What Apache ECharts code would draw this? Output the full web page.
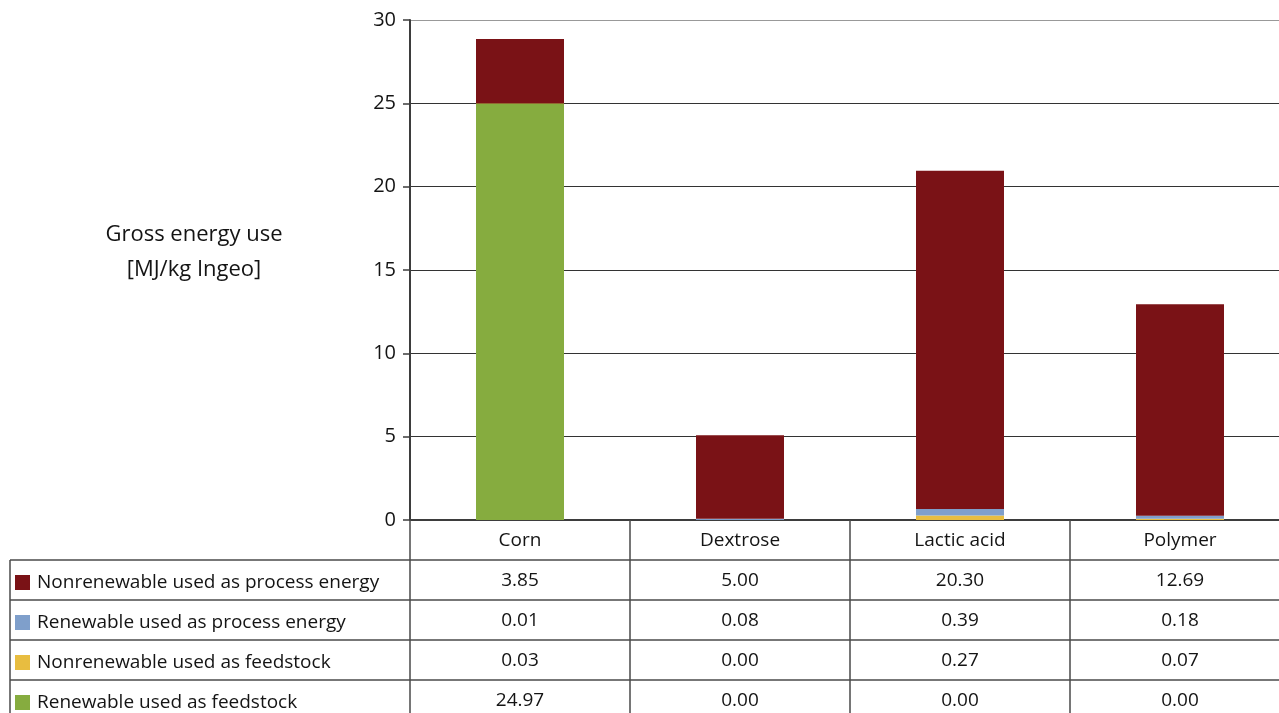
<!DOCTYPE html>
<html>
<head>
<meta charset="utf-8">
<script src="https://cdn.jsdelivr.net/npm/echarts@6/dist/echarts.min.js"></script>
<style>
  html, body { margin: 0; padding: 0; background: #fff; overflow: hidden; }
  #chart { width: 1290px; height: 713px; }
</style>
</head>
<body>
<div id="chart"></div>
<script>
// Production stages along the x axis
const stages = ['Corn', 'Dextrose', 'Lactic acid', 'Polymer'];

// Energy components, MJ per kg Ingeo
const nonrenewableProcess = [3.85, 5.00, 20.30, 12.69];
const renewableProcess = [0.01, 0.08, 0.39, 0.18];
const nonrenewableFeedstock = [0.03, 0.00, 0.27, 0.07];
const renewableFeedstock = [24.97, 0.00, 0.00, 0.00];

const seriesNames = [
  'Nonrenewable used as process energy',
  'Renewable used as process energy',
  'Nonrenewable used as feedstock',
  'Renewable used as feedstock'
];

// Value-axis ticks
const yTicks = { min: 0, max: 30, interval: 5 };

const FONT = '"Open Sans", "Noto Sans", sans-serif';
const TEXT = '#141414';
const LINE = '#4a4a4a';
const seriesColors = ['#7a1216', '#7f9fcb', '#e8bd40', '#86ac3f'];

// Table rows, top to bottom, in the same order as the legend
const tableRows = [nonrenewableProcess, renewableProcess, nonrenewableFeedstock, renewableFeedstock];

const VIEW_W = 1279;
const GRID_LEFT = 410, GRID_TOP = 20, GRID_W = 880, GRID_H = 500;
const ROW_H = 40;
const baseY = GRID_TOP + GRID_H;

const chart = echarts.init(document.getElementById('chart'), null, { renderer: 'canvas' });

// Category axis (header row) plus one line-less axis per table row
const xAxes = [{
  type: 'category',
  data: stages,
  gridIndex: 0,
  position: 'bottom',
  axisLine: { show: true, lineStyle: { color: '#3d3d3d', width: 2 } },
  axisTick: { show: true, length: 200, lineStyle: { color: LINE, width: 1.5 } },
  axisLabel: { margin: 11, fontSize: 19, color: TEXT, fontFamily: FONT }
}];
tableRows.forEach((row, i) => {
  xAxes.push({
    type: 'category',
    data: stages,
    gridIndex: 0,
    position: 'bottom',
    offset: ROW_H * (i + 1),
    axisLine: { show: false },
    axisTick: { show: false },
    splitLine: { show: false },
    axisLabel: {
      margin: 11, fontSize: 19, color: TEXT, fontFamily: FONT,
      formatter: (v, idx) => row[idx].toFixed(2)
    }
  });
});

// One legend per table row, so each swatch sits in its own row
const legends = seriesNames.map((name, i) => ({
  orient: 'horizontal',
  left: 15,
  top: baseY + ROW_H * (i + 1) + 13,
  padding: 0,
  itemWidth: 15,
  itemHeight: 15,
  selectedMode: false,
  icon: 'rect',
  data: [name],
  textStyle: { fontSize: 19, color: TEXT, fontFamily: FONT, padding: [2, 0, 0, 2] }
}));

// Table ruling lines
const tableLines = [];
for (let i = 1; i <= 4; i++) {
  const y = baseY + ROW_H * i;
  tableLines.push({
    type: 'line', silent: true,
    shape: { x1: 10, y1: y, x2: VIEW_W, y2: y },
    style: { stroke: LINE, lineWidth: 1.5 }
  });
}
tableLines.push({
  type: 'line', silent: true,
  shape: { x1: 10, y1: baseY + ROW_H, x2: 10, y2: 713 },
  style: { stroke: LINE, lineWidth: 1.5 }
});

const option = {
  backgroundColor: '#fff',
  animation: false,
  grid: { left: GRID_LEFT, top: GRID_TOP, width: GRID_W, height: GRID_H, containLabel: false },
  legend: legends,
  xAxis: xAxes,
  yAxis: {
    type: 'value',
    min: yTicks.min,
    max: yTicks.max,
    interval: yTicks.interval,
    axisLine: { show: true, lineStyle: { color: '#3d3d3d', width: 2 } },
    axisTick: { show: true, length: 7, lineStyle: { color: '#3d3d3d', width: 1.5 } },
    axisLabel: { margin: 14, fontSize: 20, color: TEXT, fontFamily: FONT },
    splitLine: {
      show: true,
      lineStyle: { color: ['#333', '#333', '#333', '#333', '#333', '#333', '#999'], width: 1 }
    }
  },
  graphic: [
    {
      type: 'text', silent: true,
      x: 194, y: 217,
      style: {
        text: 'Gross energy use\n[MJ/kg Ingeo]',
        align: 'center',
        verticalAlign: 'top',
        fontSize: 22, lineHeight: 35,
        fill: TEXT, fontFamily: FONT
      }
    }
  ].concat(tableLines),
  series: [
    { name: seriesNames[3], type: 'bar', stack: 'energy', barWidth: '40%', data: renewableFeedstock, itemStyle: { color: seriesColors[3] } },
    { name: seriesNames[2], type: 'bar', stack: 'energy', barWidth: '40%', data: nonrenewableFeedstock, itemStyle: { color: seriesColors[2] } },
    { name: seriesNames[1], type: 'bar', stack: 'energy', barWidth: '40%', data: renewableProcess, itemStyle: { color: seriesColors[1] } },
    { name: seriesNames[0], type: 'bar', stack: 'energy', barWidth: '40%', data: nonrenewableProcess, itemStyle: { color: seriesColors[0] } }
  ]
};

chart.setOption(option);
</script>
</body>
</html>
